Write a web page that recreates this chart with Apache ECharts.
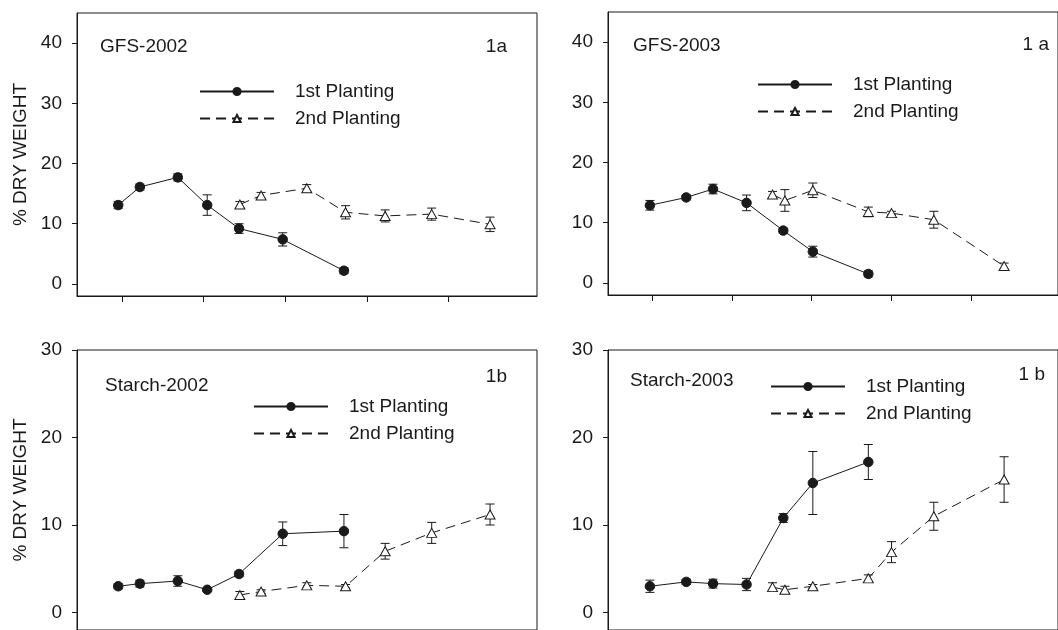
<!DOCTYPE html>
<html>
<head>
<meta charset="utf-8">
<script src="https://cdn.jsdelivr.net/npm/echarts@6/dist/echarts.min.js"></script>
<style>
html,body{margin:0;padding:0;background:#fff;}
#chart{width:1058px;height:630px;}
</style>
</head>
<body>
<div id="chart"></div>
<script>
// ---- data ----
const xTicks = [20, 40, 60, 80, 100];
const gfsTicks = [0, 10, 20, 30, 40];
const starchTicks = [0, 10, 20, 30];

const x2002P1 = [19.1, 24.4, 33.7, 40.9, 48.7, 59.4, 74.4];
const x2002P2 = [48.9, 54.1, 65.3, 74.8, 84.5, 95.9, 110.2];
const x2003P1 = [19.5, 28.6, 35.3, 43.7, 52.9, 60.3, 74.2];
const x2003P2 = [50.2, 53.3, 60.3, 74.2, 80.0, 90.6, 108.2];

const gfs2002P1 = [13.1, 16.1, 17.7, 13.1, 9.2, 7.4, 2.2];
const gfs2002P1Err = [0.6, 0.5, 0.6, 1.7, 0.8, 1.1, 0.5];
const gfs2002P2 = [13.2, 14.7, 15.9, 11.9, 11.3, 11.6, 9.9];
const gfs2002P2Err = [0.5, 0.5, 0.6, 1.1, 1.0, 1.0, 1.2];

const gfs2003P1 = [12.9, 14.2, 15.6, 13.3, 8.7, 5.2, 1.5];
const gfs2003P1Err = [0.8, 0.4, 0.8, 1.3, 0.4, 0.9, 0.5];
const gfs2003P2 = [14.7, 13.7, 15.4, 11.8, 11.6, 10.5, 2.8];
const gfs2003P2Err = [0.5, 1.8, 1.2, 0.8, 0.3, 1.4, 0.5];

const starch2002P1 = [3.0, 3.3, 3.6, 2.6, 4.4, 9.0, 9.3];
const starch2002P1Err = [0.3, 0.4, 0.6, 0.2, 0.3, 1.35, 1.9];
const starch2002P2 = [2.0, 2.4, 3.1, 3.0, 7.0, 9.1, 11.2];
const starch2002P2Err = [0.4, 0.2, 0.3, 0.2, 0.9, 1.2, 1.2];

const starch2003P1 = [3.0, 3.5, 3.3, 3.2, 10.8, 14.8, 17.2];
const starch2003P1Err = [0.7, 0.3, 0.5, 0.7, 0.5, 3.6, 2.0];
const starch2003P2 = [2.9, 2.6, 3.0, 3.9, 6.9, 11.0, 15.2];
const starch2003P2Err = [0.5, 0.4, 0.2, 0.4, 1.2, 1.6, 2.6];

const seriesNames = ['1st Planting', '2nd Planting'];
const yName = '% DRY WEIGHT';
const panelTitles = ['GFS-2002', 'GFS-2003', 'Starch-2002', 'Starch-2003'];
const panelTags = ['1a', '1 a', '1b', '1 b'];

// ---- build ----
const FONT = '"Liberation Sans", Arial, sans-serif';
const INK = '#1a1a1a';
const FS = 19;

const panels = [
  {grid:{left:77, top:13, width:460, height:283}, ymin:-2, ymax:45, ticks:gfsTicks, name:true,
   p1:[x2002P1, gfs2002P1, gfs2002P1Err], p2:[x2002P2, gfs2002P2, gfs2002P2Err],
   legend:{left:194, top:77}, title:[100, 47], tag:[507, 47]},
  {grid:{left:608, top:12, width:460, height:283}, ymin:-2, ymax:45, ticks:gfsTicks, name:false,
   p1:[x2003P1, gfs2003P1, gfs2003P1Err], p2:[x2003P2, gfs2003P2, gfs2003P2Err],
   legend:{left:752, top:70}, title:[633, 46], tag:[1049, 45]},
  {grid:{left:77, top:350, width:460, height:284}, ymin:-2, ymax:30, ticks:starchTicks, name:true,
   p1:[x2002P1, starch2002P1, starch2002P1Err], p2:[x2002P2, starch2002P2, starch2002P2Err],
   legend:{left:248, top:392}, title:[105, 386], tag:[507, 377]},
  {grid:{left:608, top:350, width:460, height:284}, ymin:-2, ymax:30, ticks:starchTicks, name:false,
   p1:[x2003P1, starch2003P1, starch2003P1Err], p2:[x2003P2, starch2003P2, starch2003P2Err],
   legend:{left:765, top:372}, title:[630, 381], tag:[1045, 375]}
];

function zip(xs, ys) { return xs.map((x, i) => [x, ys[i]]); }
function zip3(xs, ys, es) { return xs.map((x, i) => [x, ys[i], es[i]]); }

function errRender(params, api) {
  const x = api.value(0), y = api.value(1), e = api.value(2);
  const t = api.coord([x, y + e]);
  const b = api.coord([x, y - e]);
  const w = 4.5;
  const st = {stroke: INK, lineWidth: 1};
  return {type: 'group', children: [
    {type: 'line', shape: {x1: t[0], y1: t[1], x2: b[0], y2: b[1]}, style: st},
    {type: 'line', shape: {x1: t[0] - w, y1: t[1], x2: t[0] + w, y2: t[1]}, style: st},
    {type: 'line', shape: {x1: b[0] - w, y1: b[1], x2: b[0] + w, y2: b[1]}, style: st}
  ]};
}

const grid = [], xAxis = [], yAxis = [], series = [], legend = [], graphic = [];
panels.forEach((p, i) => {
  grid.push(Object.assign({show: true, borderColor: INK, borderWidth: 1, backgroundColor: 'transparent'}, p.grid));
  xAxis.push({
    type: 'value', gridIndex: i, min: 9, max: 121.7,
    axisLine: {show: true, onZero: false, lineStyle: {color: INK, width: 1}},
    axisTick: {show: true, inside: false, length: 6, customValues: xTicks, lineStyle: {color: INK}},
    axisLabel: {show: false}, splitLine: {show: false}
  });
  yAxis.push({
    type: 'value', gridIndex: i, min: p.ymin, max: p.ymax,
    name: p.name ? yName : '', nameLocation: 'middle', nameGap: 47, nameRotate: 90,
    nameTextStyle: {fontFamily: FONT, fontSize: FS, color: INK},
    axisLine: {show: true, onZero: false, lineStyle: {color: INK, width: 1}},
    axisTick: {show: true, inside: false, length: 5, customValues: p.ticks, lineStyle: {color: INK}},
    axisLabel: {show: true, margin: 15, customValues: p.ticks, fontFamily: FONT, fontSize: FS, color: INK},
    splitLine: {show: false}
  });
  // error bars
  series.push({type: 'custom', xAxisIndex: i, yAxisIndex: i, renderItem: errRender,
    data: zip3(p.p1[0], p.p1[1], p.p1[2]), z: 2, silent: true});
  series.push({type: 'custom', xAxisIndex: i, yAxisIndex: i, renderItem: errRender,
    data: zip3(p.p2[0], p.p2[1], p.p2[2]), z: 2, silent: true});
  series.push({
    type: 'line', name: seriesNames[0], xAxisIndex: i, yAxisIndex: i,
    data: zip(p.p1[0], p.p1[1]),
    symbol: 'circle', symbolSize: 9.5, showAllSymbol: true,
    lineStyle: {color: INK, width: 1, type: 'solid'},
    itemStyle: {color: INK, borderColor: INK, borderWidth: 1},
    z: 3, animation: false
  });
  series.push({
    type: 'line', name: seriesNames[1], xAxisIndex: i, yAxisIndex: i,
    data: zip(p.p2[0], p.p2[1]),
    symbol: 'triangle', symbolSize: [10, 9], showAllSymbol: true,
    lineStyle: {color: INK, width: 1, type: [10, 6]},
    itemStyle: {color: '#ffffff', borderColor: INK, borderWidth: 1},
    z: 3, animation: false
  });
  legend.push({
    data: seriesNames, orient: 'vertical', left: p.legend.left, top: p.legend.top,
    itemWidth: 74, itemHeight: 9, itemGap: 8, selectedMode: false,
    textStyle: {fontFamily: FONT, fontSize: FS, color: INK, padding: [0, 0, 0, 16]}
  });
  graphic.push({type: 'text', x: p.title[0], y: p.title[1],
    style: {text: panelTitles[i], font: FS + 'px ' + FONT, fill: INK, verticalAlign: 'middle', align: 'left'}});
  graphic.push({type: 'text', x: p.tag[0], y: p.tag[1],
    style: {text: panelTags[i], font: FS + 'px ' + FONT, fill: INK, verticalAlign: 'middle', align: 'right'}});
});

const chart = echarts.init(document.getElementById('chart'), null, {renderer: 'canvas'});
chart.setOption({
  animation: false,
  backgroundColor: '#ffffff',
  grid, xAxis, yAxis, series, legend, graphic
});
</script>
</body>
</html>
